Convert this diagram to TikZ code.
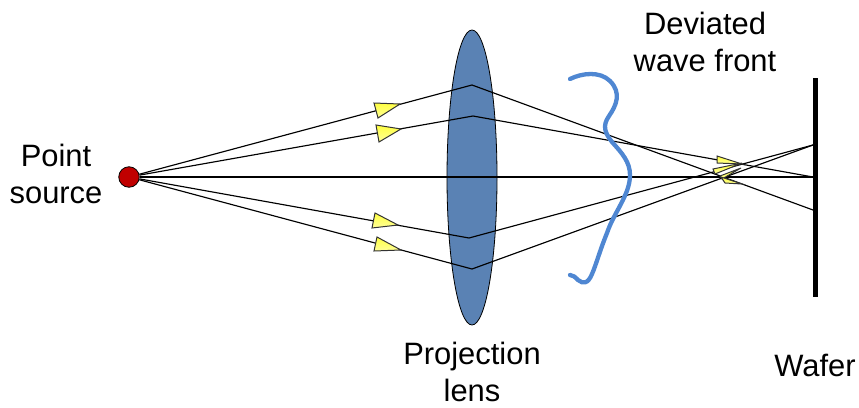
\documentclass[tikz,border=0pt]{standalone}
\usepackage{fontspec}
\usetikzlibrary{shapes.geometric}
\setmainfont{Liberation Sans}
\definecolor{lensblue}{HTML}{5A82B4}
\definecolor{waveblue}{HTML}{4F87D2}
\definecolor{srcred}{HTML}{C00000}
\tikzset{
  lbl/.style={inner sep=0pt,align=center,font=\fontsize{30.9}{36.5}\selectfont},
  ray/.style={draw=black,line width=1.15pt},
  tri/.style={draw=black!80,line width=1pt,line join=miter,top color=yellow!75!white,bottom color=yellow!40,shading angle=0},
}
\begin{document}
\begin{tikzpicture}[x=1pt,y=-1pt]
\useasboundingbox (0,0) rectangle (859,407);
\node[draw=black,line width=0.8pt,fill=lensblue,ellipse,minimum width=50pt,minimum height=295pt,inner sep=0pt] (lens) at (472,177.5) {};
\node[draw=black,line width=0.8pt,fill=srcred,circle,minimum size=20.5pt,inner sep=0pt] (src) at (129,177) {};
\coordinate (v1) at (472,85);
\coordinate (v2) at (473,116);
\coordinate (v3) at (469,238);
\coordinate (v4) at (472,269);
\coordinate (wt) at (815,78);
\coordinate (wb) at (815,297);
\coordinate (w1) at (813,145);
\coordinate (w2) at (813,177);
\coordinate (w3) at (813,210);
\draw[ray] (src) -- (v1) -- (w3);
\draw[ray] (src) -- (v2) -- (w2);
\draw[ray] (src) -- (v3) -- (w1);
\draw[ray] (src) -- (v4) -- (w1);
\draw[ray] (src) -- (w2);
\draw[line width=5pt] (wt) -- (wb);
\draw[tri] (374,103) -- (400,104) -- (378,118) -- cycle;
\draw[tri] (376,125) -- (401,129) -- (379,142) -- cycle;
\draw[tri] (375,213) -- (398,225) -- (372,228) -- cycle;
\draw[tri] (377,237) -- (401,250) -- (374,251) -- cycle;
\draw[tri] (717,156) -- (742,164) -- (717,163) -- cycle;
\draw[tri] (713,169) -- (742,163) -- (715,174) -- cycle;
\draw[tri] (720,176) -- (741,168) -- (722,179) -- cycle;
\draw[tri] (721,177) -- (742,184) -- (725,183) -- cycle;
\draw[waveblue,line width=4.3pt,line cap=round] (570,79) .. controls (582,73) and (600,71) .. (610,81) .. controls (622,93) and (616,106) .. (609,116) .. controls (602,126) and (605,133) .. (612,142) .. controls (622,153) and (630,162) .. (630,175) .. controls (630,195) and (614,212) .. (607,233) .. controls (600,250) and (596,265) .. (592,274) .. controls (588,284) and (583,284) .. (578,280) .. controls (575,277) and (573,275) .. (570,275);
\node[lbl] (t1) at (56,174) {Point\\source};
\node[lbl] (t2) at (705,42) {Deviated\\wave front};
\node[lbl] (t3) at (472,372) {Projection\\lens};
\node[lbl] (t4) at (815,365) {Wafer};
\end{tikzpicture}
\end{document}
